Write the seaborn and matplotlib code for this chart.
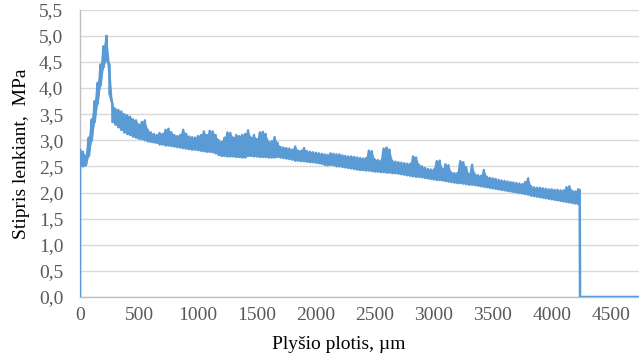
import matplotlib
matplotlib.use("Agg")
import matplotlib.pyplot as plt
import matplotlib.ticker as mticker
import seaborn as sns
import pandas as pd

# ---- data (distance in µm, strength in MPa) ----
# sampled every 25 µm from 0 to 4225 µm: upper and lower edge of the noisy trace
distance_um = list(range(0, 4250, 25))
upper_mpa = [
    2.82, 2.78, 2.70, 3.05, 3.40, 3.75, 4.10, 4.45, 4.80, 5.00,
    4.45, 3.70, 3.60, 3.58, 3.55, 3.50, 3.48, 3.45, 3.40, 3.38,
    3.30, 3.35, 3.38, 3.20, 3.15, 3.12, 3.10, 3.14, 3.12, 3.20,
    3.22, 3.15, 3.10, 3.08, 3.10, 3.20, 3.12, 3.07, 3.06, 3.05,
    3.08, 3.10, 3.17, 3.10, 3.18, 3.17, 3.10, 3.00, 2.97, 3.05,
    3.15, 3.14, 3.05, 3.10, 3.08, 3.10, 3.12, 3.19, 3.05, 3.10,
    3.02, 3.15, 3.16, 3.12, 2.97, 2.98, 3.06, 2.95, 2.87, 2.86,
    2.85, 2.84, 2.82, 2.88, 2.80, 2.80, 2.85, 2.79, 2.78, 2.77,
    2.76, 2.75, 2.74, 2.73, 2.72, 2.75, 2.74, 2.73, 2.73, 2.71,
    2.70, 2.69, 2.69, 2.68, 2.67, 2.66, 2.65, 2.66, 2.80, 2.79,
    2.63, 2.62, 2.61, 2.84, 2.86, 2.82, 2.60, 2.59, 2.58, 2.57,
    2.56, 2.55, 2.55, 2.69, 2.67, 2.53, 2.50, 2.47, 2.45, 2.44,
    2.44, 2.60, 2.61, 2.45, 2.54, 2.52, 2.38, 2.37, 2.37, 2.60,
    2.58, 2.48, 2.34, 2.53, 2.35, 2.33, 2.32, 2.43, 2.30, 2.28,
    2.27, 2.26, 2.24, 2.23, 2.22, 2.21, 2.20, 2.19, 2.18, 2.17,
    2.16, 2.20, 2.27, 2.12, 2.10, 2.09, 2.09, 2.08, 2.07, 2.06,
    2.06, 2.05, 2.05, 2.04, 2.04, 2.10, 2.12, 2.03, 2.02, 2.06,
]
lower_mpa = [
    2.50, 2.50, 2.52, 2.70, 3.00, 3.35, 3.70, 4.05, 4.40, 4.55,
    3.90, 3.35, 3.30, 3.25, 3.20, 3.15, 3.12, 3.10, 3.07, 3.05,
    3.03, 3.02, 3.00, 2.98, 2.97, 2.96, 2.95, 2.92, 2.92, 2.90,
    2.90, 2.89, 2.88, 2.87, 2.86, 2.85, 2.84, 2.83, 2.82, 2.82,
    2.81, 2.80, 2.79, 2.78, 2.78, 2.77, 2.75, 2.72, 2.70, 2.70,
    2.69, 2.69, 2.69, 2.68, 2.68, 2.67, 2.67, 2.70, 2.70, 2.69,
    2.69, 2.68, 2.68, 2.68, 2.67, 2.67, 2.67, 2.68, 2.67, 2.66,
    2.65, 2.64, 2.63, 2.61, 2.61, 2.60, 2.60, 2.59, 2.58, 2.58,
    2.57, 2.56, 2.55, 2.53, 2.52, 2.53, 2.52, 2.50, 2.50, 2.49,
    2.48, 2.47, 2.46, 2.45, 2.44, 2.43, 2.43, 2.42, 2.42, 2.41,
    2.40, 2.40, 2.39, 2.39, 2.38, 2.38, 2.37, 2.37, 2.36, 2.35,
    2.34, 2.33, 2.32, 2.31, 2.30, 2.30, 2.29, 2.28, 2.27, 2.26,
    2.25, 2.24, 2.24, 2.23, 2.22, 2.21, 2.20, 2.19, 2.18, 2.18,
    2.17, 2.16, 2.15, 2.15, 2.14, 2.13, 2.12, 2.11, 2.10, 2.09,
    2.08, 2.07, 2.06, 2.05, 2.04, 2.03, 2.02, 2.01, 2.00, 1.99,
    1.98, 1.97, 1.96, 1.94, 1.93, 1.92, 1.91, 1.90, 1.89, 1.88,
    1.87, 1.86, 1.85, 1.84, 1.83, 1.82, 1.81, 1.80, 1.79, 1.78,
]
# start of the record and the fracture drop at the end
head_x = [0]
head_y = [0.0]
tail_x = [4237, 4240, 4740]
tail_y = [2.05, 0.0, 0.0]

y_ticks = [0.0, 0.5, 1.0, 1.5, 2.0, 2.5, 3.0, 3.5, 4.0, 4.5, 5.0, 5.5]
x_ticks = [0, 500, 1000, 1500, 2000, 2500, 3000, 3500, 4000, 4500]
x_title = "Plyšio plotis, µm"
y_title = "Stipris lenkiant,  MPa"

LINE = "#5B9BD5"

# ---- build the trace (alternate upper / lower edge at each sample) ----
xs, ys = list(head_x), list(head_y)
for d, u, l in zip(distance_um, upper_mpa, lower_mpa):
    xs += [d, d]
    ys += [u, l]
xs += tail_x
ys += tail_y
df = pd.DataFrame({"x": xs, "y": ys})

sns.set_theme(style="white")
plt.rcParams["font.family"] = ["Liberation Serif", "DejaVu Serif"]

fig = plt.figure(figsize=(6.39, 3.62), dpi=100)
ax = fig.add_axes([0.1252, 0.1796, 0.8748, 0.7936])

# the dense noise band between the edges
ax.fill_between(distance_um, lower_mpa, upper_mpa, color=LINE, linewidth=0, zorder=3)
sns.lineplot(data=df, x="x", y="y", sort=False, estimator=None,
             color=LINE, linewidth=1.8, ax=ax, zorder=3)

ax.set_xlim(0, 4740)
ax.set_ylim(0, 5.5)
ax.set_xticks(x_ticks)
ax.set_yticks(y_ticks)
ax.yaxis.set_major_formatter(mticker.FuncFormatter(lambda v, p: f"{v:.1f}".replace(".", ",")))
ax.xaxis.set_major_formatter(mticker.FuncFormatter(lambda v, p: f"{int(v)}"))
ax.grid(axis="y", color="#D9D9D9", linewidth=1.0)
ax.grid(axis="x", visible=False)
ax.set_axisbelow(True)
ax.tick_params(axis="both", length=0, labelsize=14, colors="#595959")
ax.tick_params(axis="y", pad=12)
ax.tick_params(axis="x", pad=7)
for s in ["top", "right"]:
    ax.spines[s].set_visible(False)
for s in ["left", "bottom"]:
    ax.spines[s].set_color("#BFBFBF")
    ax.spines[s].set_linewidth(1.0)

ax.set_xlabel(x_title, fontsize=14, color="black")
ax.set_ylabel(y_title, fontsize=14, color="black")
ax.xaxis.set_label_coords(0.463, -0.135)
ax.yaxis.set_label_coords(-0.09, 0.5)

fig.savefig("out.png", dpi=100)
